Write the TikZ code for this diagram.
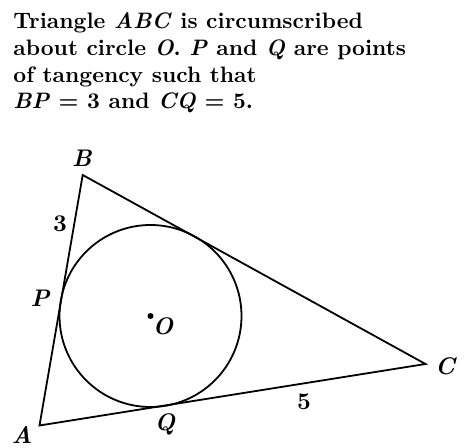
\documentclass[tikz,border=0pt]{standalone}
\usepackage{tikz}
\usetikzlibrary{positioning, calc}

\begin{document}
\begin{tikzpicture}[
    x=0.5pt, y=-0.5pt,
    every node/.style={font=\bfseries},
    title/.style={anchor=north west, align=left, inner sep=0pt, scale=1.025, transform shape, font=\fontsize{10.9}{13}\selectfont\bfseries},
    vlabel/.style={font=\fontsize{10.9}{12}\selectfont\bfseries\itshape, scale=1.1, transform shape, inner sep=1pt},
    numlabel/.style={vlabel, font=\fontsize{10.9}{12}\selectfont\bfseries},
    side/.style={line width=0.9pt},
    dot/.style={circle, fill, inner sep=0pt, minimum size=3pt}
]
\useasboundingbox (0,0) rectangle (472,448);

% statement
\node[title] (txt) at (13,12.5) {Triangle \textit{ABC} is circumscribed\\about circle \textit{O}. \textit{P} and \textit{Q} are points\\of tangency such that\\\textit{BP} = 3 and \textit{CQ} = 5.};

% triangle and incircle
\coordinate (A) at (39.5,425.5);
\coordinate (B) at (82.7,175);
\coordinate (C) at (425.5,364);
\coordinate (O) at (150.5,316);

\draw[side] (A) -- (B) -- (C) -- cycle;
\draw[side] (O) circle[radius=91];
\node[dot] (Odot) at (O) {};

% labels
\node[vlabel] (lB) at (82,158) {B};
\node[vlabel] (lA) at (22,435) {A};
\node[vlabel] (lC) at (445,366) {C};
\node[vlabel] (lP) at (40,298) {P};
\node[vlabel] (lQ) at (165,424) {Q};
\node[vlabel] (lO) at (163,326) {O};
\node[numlabel] (l3) at (60,224) {3};
\node[numlabel] (l5) at (304,402) {5};

\end{tikzpicture}
\end{document}
